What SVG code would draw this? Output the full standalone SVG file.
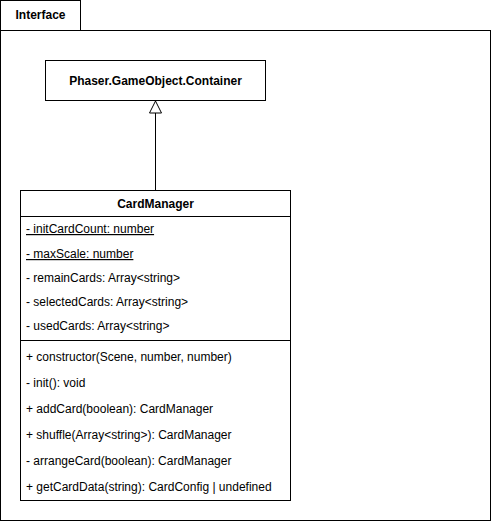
<svg xmlns="http://www.w3.org/2000/svg" width="491" height="521" viewBox="0 0 491 521">
<style>
.s{fill:#fff;stroke:#000;stroke-width:1}
.t{font-family:"Liberation Sans",Arial,sans-serif;font-size:12px;fill:#000}
.b{font-weight:bold}
.u{text-decoration:underline}
</style>
<defs>
<marker id="tri" viewBox="0 0 14 14" refX="13" refY="7" markerWidth="14" markerHeight="14" markerUnits="userSpaceOnUse" orient="auto">
<path d="M1,1 L13,7 L1,13 Z" fill="#fff" stroke="#000" stroke-width="1"/>
</marker>
</defs>
<g id="package">
<rect class="s" x="0.5" y="0.5" width="80" height="30"/>
<rect class="s" x="0.5" y="30.5" width="490" height="490"/>
<text class="t b" x="40.5" y="19" text-anchor="middle">Interface</text>
</g>
<g id="container">
<rect class="s" x="45.5" y="60.5" width="220" height="40"/>
<text class="t b" x="155.5" y="85" text-anchor="middle">Phaser.GameObject.Container</text>
</g>
<g id="cardmanager">
<rect class="s" x="20.5" y="190.5" width="270" height="310"/>
<line x1="20.5" y1="216.5" x2="290.5" y2="216.5" stroke="#000"/>
<line x1="20.5" y1="340.5" x2="290.5" y2="340.5" stroke="#000"/>
<text class="t b" x="155.5" y="208" text-anchor="middle">CardManager</text>
<text class="t u" x="26" y="233">- initCardCount: number</text>
<text class="t u" x="26" y="258">- maxScale: number</text>
<text class="t" x="26" y="282">- remainCards: Array&lt;string&gt;</text>
<text class="t" x="26" y="306">- selectedCards: Array&lt;string&gt;</text>
<text class="t" x="26" y="330">- usedCards: Array&lt;string&gt;</text>
<text class="t" x="26" y="361">+ constructor(Scene, number, number)</text>
<text class="t" x="26" y="387">- init(): void</text>
<text class="t" x="26" y="413">+ addCard(boolean): CardManager</text>
<text class="t" x="26" y="439">+ shuffle(Array&lt;string&gt;): CardManager</text>
<text class="t" x="26" y="465">- arrangeCard(boolean): CardManager</text>
<text class="t" x="26" y="491">+ getCardData(string): CardConfig | undefined</text>
</g>
<g id="connectors">
<line x1="155.5" y1="190" x2="155.5" y2="101" stroke="#000" marker-end="url(#tri)"/>
</g>
</svg>
